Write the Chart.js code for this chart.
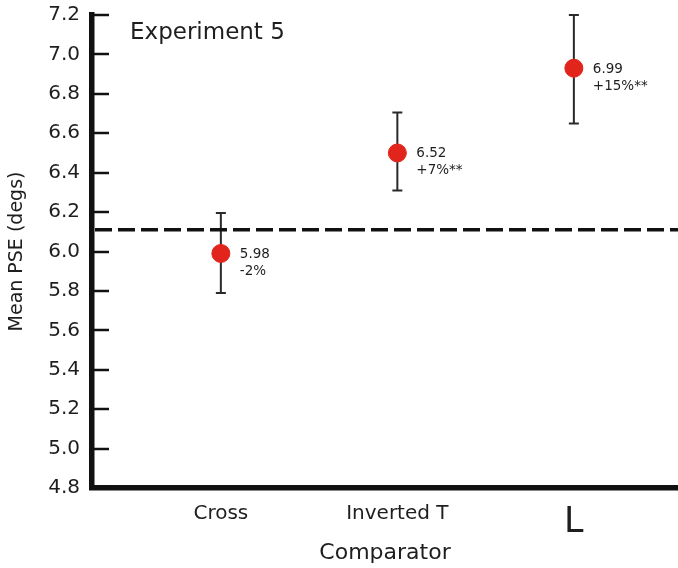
<!DOCTYPE html>
<html>
<head>
<meta charset="utf-8">
<script src="https://cdn.jsdelivr.net/npm/chart.js@4.4.1/dist/chart.umd.min.js"></script>
<style>
  html, body { margin: 0; padding: 0; background: #fff; }
  #wrap { width: 678px; height: 568px; }
</style>
</head>
<body>
<div id="wrap"><canvas id="pseChart"></canvas></div>
<script>
// data
const categories = ['Cross', 'Inverted T', 'L'];
const xPos = [1, 2, 3];
const meanPSE = [5.99, 6.50, 6.93];
const errLow = [5.79, 6.31, 6.65];
const errHigh = [6.195, 6.705, 7.20];
const valueLabels = ['5.98', '6.52', '6.99'];
const changeLabels = ['-2%', '+7%**', '+15%**'];
const baselinePSE = 6.11;

const FONT = "'DejaVu Sans', 'Liberation Sans', Arial, sans-serif";
const INK = '#1e1e1e';

// inside ticks, error bars, dashed baseline, text
const extras = {
    id: 'extras',
    beforeDatasetsDraw(chart) {
        const { ctx, chartArea, scales: { x, y } } = chart;
        ctx.save();
        // tick marks pointing into the plot
        ctx.strokeStyle = '#111';
        ctx.lineWidth = 2.5;
        y.ticks.forEach(t => {
            const py = Math.round(y.getPixelForValue(t.value));
            ctx.beginPath();
            ctx.moveTo(chartArea.left, py);
            ctx.lineTo(chartArea.left + 17, py);
            ctx.stroke();
        });
        // error bars
        ctx.strokeStyle = '#2a2a2a';
        ctx.lineWidth = 2;
        xPos.forEach((xv, i) => {
            const px = x.getPixelForValue(xv);
            const top = y.getPixelForValue(errHigh[i]);
            const bot = y.getPixelForValue(errLow[i]);
            ctx.beginPath();
            ctx.moveTo(px, top); ctx.lineTo(px, bot);
            ctx.moveTo(px - 5, top); ctx.lineTo(px + 5, top);
            ctx.moveTo(px - 5, bot); ctx.lineTo(px + 5, bot);
            ctx.stroke();
        });
        // dashed reference line
        const by = y.getPixelForValue(baselinePSE);
        ctx.strokeStyle = '#111';
        ctx.lineWidth = 3.5;
        ctx.setLineDash([17, 6]);
        ctx.beginPath();
        ctx.moveTo(chartArea.left + 3, by);
        ctx.lineTo(chartArea.right, by);
        ctx.stroke();
        ctx.restore();
    },
    afterDatasetsDraw(chart) {
        const { ctx, chartArea, scales: { x, y } } = chart;
        ctx.save();
        ctx.fillStyle = INK;
        ctx.textBaseline = 'middle';
        ctx.textAlign = 'left';
        ctx.font = '13.5px ' + FONT;
        xPos.forEach((xv, i) => {
            const px = x.getPixelForValue(xv);
            const py = y.getPixelForValue(meanPSE[i]);
            ctx.fillText(valueLabels[i], px + 19, py + 1);
            ctx.fillText(changeLabels[i], px + 19, py + 18);
        });
        ctx.font = '23px ' + FONT;
        ctx.fillText('Experiment 5', chartArea.left + 38, 33);
        ctx.restore();
    }
};

new Chart(document.getElementById('pseChart'), {
    type: 'scatter',
    data: {
        datasets: [{
            label: 'Mean PSE',
            data: xPos.map((xv, i) => ({ x: xv, y: meanPSE[i] })),
            backgroundColor: '#e2251c',
            borderColor: '#e2251c',
            pointRadius: 9,
            pointHoverRadius: 9
        }]
    },
    options: {
        responsive: true,
        maintainAspectRatio: false,
        animation: false,
        layout: { autoPadding: false, padding: { top: 15, right: 0, left: 0, bottom: 0 } },
        plugins: {
            legend: { display: false },
            tooltip: { enabled: false }
        },
        scales: {
            x: {
                type: 'linear',
                min: 0.27,
                max: 3.59,
                afterBuildTicks: scale => {
                    scale.ticks = xPos.map(v => ({ value: v }));
                },
                afterFit: scale => {
                    scale.height = 80;
                    scale.paddingLeft = 0;
                    scale.paddingRight = 0;
                },
                grid: { display: false, drawTicks: false },
                border: { display: true, width: 5.5, color: '#111' },
                ticks: {
                    padding: 14,
                    color: INK,
                    autoSkip: false,
                    maxRotation: 0,
                    callback: (v, i) => categories[i],
                    font: ctx => ({ family: FONT, size: ctx.index === 2 ? 35 : 20 })
                },
                title: {
                    display: true,
                    text: 'Comparator',
                    color: INK,
                    font: { family: FONT, size: 22 },
                    padding: { top: 0, bottom: 2 }
                }
            },
            y: {
                min: 4.8,
                max: 7.2,
                afterFit: scale => {
                    scale.width = 92;
                    scale.paddingTop = 0;
                    scale.paddingBottom = 0;
                },
                grid: { display: false, drawTicks: false },
                border: { display: true, width: 5.5, color: '#111' },
                ticks: {
                    stepSize: 0.2,
                    padding: 12,
                    color: INK,
                    font: { family: FONT, size: 20 },
                    callback: v => Number(v).toFixed(1)
                },
                title: {
                    display: true,
                    text: 'Mean PSE (degs)',
                    color: INK,
                    font: { family: FONT, size: 19 },
                    padding: { top: 6, bottom: 0 }
                }
            }
        }
    },
    plugins: [extras]
});
</script>
</body>
</html>
